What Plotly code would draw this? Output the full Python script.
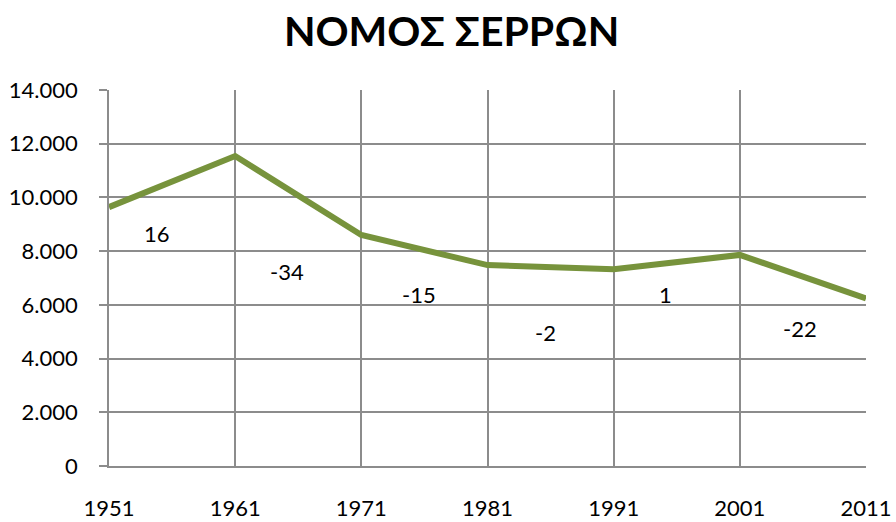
import plotly.graph_objects as go

# Population of the Serres prefecture by census year
years = [1951, 1961, 1971, 1981, 1991, 2001, 2011]
population = [9640, 11540, 8600, 7480, 7330, 7860, 6240]

# Change labels written between census points
change_labels = ["16", "-34", "-15", "-2", "1", "-22"]
label_x = [1954.8, 1965.1, 1975.6, 1985.6, 1995.1, 2005.8]
label_y = [8650, 7250, 6380, 4960, 6380, 5110]

y_ticks = [0, 2000, 4000, 6000, 8000, 10000, 12000, 14000]

grid_color = "#8c8c8c"
font_family = "Lato, 'Open Sans', sans-serif"

fig = go.Figure()
fig.add_trace(go.Scatter(
    x=years, y=population, mode="lines",
    line=dict(color="#77933C", width=6),
    hoverinfo="x+y", showlegend=False,
))

for x, y, t in zip(label_x, label_y, change_labels):
    fig.add_annotation(x=x, y=y, text=t, showarrow=False,
                       font=dict(size=22, color="#000000", family=font_family))

fig.update_layout(
    width=896, height=522,
    margin=dict(l=109, r=30, t=90, b=56),
    paper_bgcolor="white", plot_bgcolor="white",
    separators=",.",
    title=dict(text="<b>ΝΟΜΟΣ ΣΕΡΡΩΝ</b>", x=0.504, xanchor="center",
               y=0.94, yanchor="middle",
               font=dict(size=41, color="#000000", family=font_family)),
    font=dict(family=font_family, size=22, color="#000000"),
)

fig.update_xaxes(
    range=[1951, 2011], tickmode="array", tickvals=years,
    ticktext=[str(y) for y in years],
    showgrid=True, gridcolor=grid_color, gridwidth=1.5,
    showline=True, linecolor=grid_color, linewidth=1.5,
    ticks="", ticklabelstandoff=22, zeroline=False, automargin=False,
    tickfont=dict(size=22),
)
fig.update_yaxes(
    range=[0, 14000], tickmode="array", tickvals=y_ticks,
    tickformat=",d",
    showgrid=True, gridcolor=grid_color, gridwidth=1.5,
    showline=True, linecolor=grid_color, linewidth=1.5,
    ticks="outside", ticklen=8, tickcolor=grid_color, tickwidth=1.5,
    ticklabelstandoff=17, zeroline=False, automargin=False,
    tickfont=dict(size=22),
)

fig.write_html("out.html")
